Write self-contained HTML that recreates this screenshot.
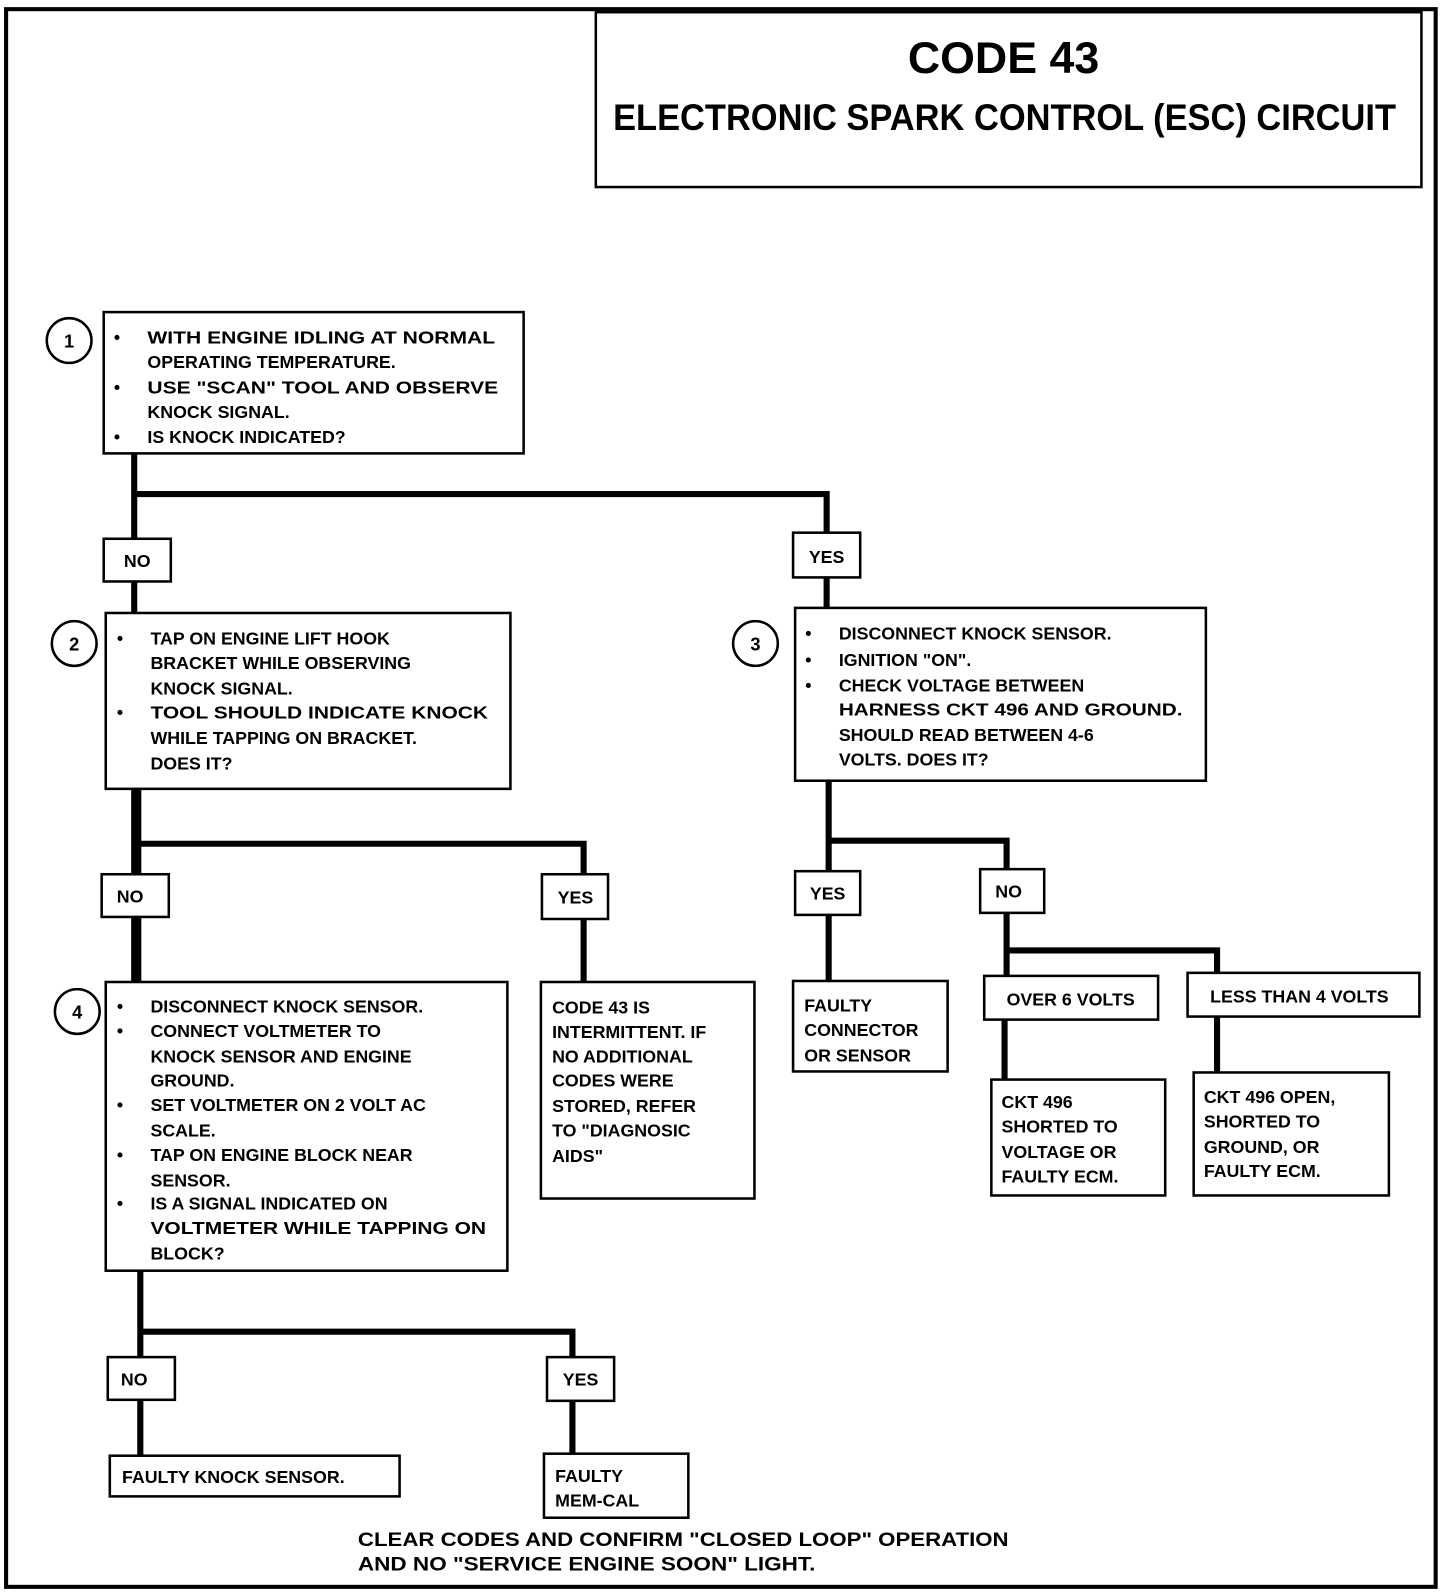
<!DOCTYPE html>
<html><head><meta charset="utf-8"><style>
html,body{margin:0;padding:0;background:#fff;}
svg{display:block;}
text{font-family:"Liberation Sans",sans-serif;font-weight:bold;fill:#000;}
.t{font-size:17.5px;}
.r{fill:#fff;stroke:#000;stroke-width:2.5;}
.l{stroke:#000;stroke-width:6;fill:none;}
.c{fill:#fff;stroke:#000;stroke-width:2.5;}
</style></head><body>
<svg width="1456" height="1596" viewBox="0 0 1432 1570" preserveAspectRatio="none" xmlns="http://www.w3.org/2000/svg">
<rect x="6" y="9" width="1406" height="1552" fill="none" stroke="#000" stroke-width="4"/>
<rect class="r" x="586" y="12" width="812" height="172"/>
<text x="987" y="72" text-anchor="middle" font-size="44">CODE 43</text>
<text x="988" y="128" text-anchor="middle" font-size="36" textLength="770" lengthAdjust="spacingAndGlyphs">ELECTRONIC SPARK CONTROL (ESC) CIRCUIT</text>

<!-- connectors -->
<path class="l" d="M132 446V1040M132 486H813V600"/>
<path class="l" d="M136 776V966M136 830H574V966"/>
<path class="l" d="M815 768V965M815 827H990V1000M990 935H1197V1055M988 1000V1062"/>
<path class="l" d="M138 1250V1432M138 1310H563V1430"/>

<!-- box1 -->
<circle class="c" cx="68" cy="335" r="22"/><text x="68" y="342" text-anchor="middle" font-size="18">1</text>
<rect class="r" x="102" y="307" width="413" height="139"/>
<g class="t"><text x="112" y="338">•</text><text x="145" y="338" textLength="342" lengthAdjust="spacingAndGlyphs">WITH ENGINE IDLING AT NORMAL</text>
<text x="145" y="362">OPERATING TEMPERATURE.</text>
<text x="112" y="387">•</text><text x="145" y="387" textLength="345" lengthAdjust="spacingAndGlyphs">USE "SCAN" TOOL AND OBSERVE</text>
<text x="145" y="411">KNOCK SIGNAL.</text>
<text x="112" y="436">•</text><text x="145" y="436">IS KNOCK INDICATED?</text></g>

<rect class="r" x="102" y="530" width="66" height="42"/><text class="t" x="135" y="558" text-anchor="middle">NO</text>
<rect class="r" x="780" y="524" width="66" height="44"/><text class="t" x="813" y="554" text-anchor="middle">YES</text>

<!-- box2 -->
<circle class="c" cx="73" cy="633" r="22"/><text x="73" y="640" text-anchor="middle" font-size="18">2</text>
<rect class="r" x="104" y="603" width="398" height="173"/>
<g class="t"><text x="115" y="634">•</text><text x="148" y="634">TAP ON ENGINE LIFT HOOK</text>
<text x="148" y="658">BRACKET WHILE OBSERVING</text>
<text x="148" y="683">KNOCK SIGNAL.</text>
<text x="115" y="707">•</text><text x="148" y="707" textLength="332" lengthAdjust="spacingAndGlyphs">TOOL SHOULD INDICATE KNOCK</text>
<text x="148" y="732">WHILE TAPPING ON BRACKET.</text>
<text x="148" y="757">DOES IT?</text></g>

<!-- box3 -->
<circle class="c" cx="743" cy="633" r="22"/><text x="743" y="640" text-anchor="middle" font-size="18">3</text>
<rect class="r" x="782" y="598" width="404" height="170"/>
<g class="t"><text x="792" y="629">•</text><text x="825" y="629">DISCONNECT KNOCK SENSOR.</text>
<text x="792" y="655">•</text><text x="825" y="655">IGNITION "ON".</text>
<text x="792" y="680">•</text><text x="825" y="680">CHECK VOLTAGE BETWEEN</text>
<text x="825" y="704" textLength="338" lengthAdjust="spacingAndGlyphs">HARNESS CKT 496 AND GROUND.</text>
<text x="825" y="729">SHOULD READ BETWEEN 4-6</text>
<text x="825" y="753">VOLTS. DOES IT?</text></g>

<rect class="r" x="100" y="860" width="66" height="42"/><text class="t" x="128" y="888" text-anchor="middle">NO</text>
<rect class="r" x="533" y="860" width="65" height="44"/><text class="t" x="566" y="889" text-anchor="middle">YES</text>
<rect class="r" x="782" y="857" width="64" height="43"/><text class="t" x="814" y="885" text-anchor="middle">YES</text>
<rect class="r" x="964" y="855" width="63" height="43"/><text class="t" x="992" y="883" text-anchor="middle">NO</text>

<!-- box4 -->
<circle class="c" cx="76" cy="995" r="22"/><text x="76" y="1002" text-anchor="middle" font-size="18">4</text>
<rect class="r" x="104" y="966" width="395" height="284"/>
<g class="t"><text x="115" y="996">•</text><text x="148" y="996">DISCONNECT KNOCK SENSOR.</text>
<text x="115" y="1020">•</text><text x="148" y="1020">CONNECT VOLTMETER TO</text>
<text x="148" y="1045">KNOCK SENSOR AND ENGINE</text>
<text x="148" y="1069">GROUND.</text>
<text x="115" y="1093">•</text><text x="148" y="1093">SET VOLTMETER ON 2 VOLT AC</text>
<text x="148" y="1118">SCALE.</text>
<text x="115" y="1142">•</text><text x="148" y="1142">TAP ON ENGINE BLOCK NEAR</text>
<text x="148" y="1167">SENSOR.</text>
<text x="115" y="1190">•</text><text x="148" y="1190">IS A SIGNAL INDICATED ON</text>
<text x="148" y="1214" textLength="330" lengthAdjust="spacingAndGlyphs">VOLTMETER WHILE TAPPING ON</text>
<text x="148" y="1239">BLOCK?</text></g>

<rect class="r" x="532" y="966" width="210" height="213"/>
<g class="t"><text x="543" y="997">CODE 43 IS</text>
<text x="543" y="1021">INTERMITTENT. IF</text>
<text x="543" y="1045">NO ADDITIONAL</text>
<text x="543" y="1069">CODES WERE</text>
<text x="543" y="1094">STORED, REFER</text>
<text x="543" y="1118">TO "DIAGNOSIC</text>
<text x="543" y="1143">AIDS"</text></g>

<rect class="r" x="780" y="965" width="152" height="89"/>
<g class="t"><text x="791" y="995">FAULTY</text><text x="791" y="1019">CONNECTOR</text><text x="791" y="1044">OR SENSOR</text></g>

<rect class="r" x="968" y="960" width="171" height="43"/><text class="t" x="1053" y="989" text-anchor="middle">OVER 6 VOLTS</text>
<rect class="r" x="1168" y="957" width="228" height="43"/><text class="t" x="1278" y="986" text-anchor="middle">LESS THAN 4 VOLTS</text>

<rect class="r" x="975" y="1062" width="171" height="114"/>
<g class="t"><text x="985" y="1090">CKT 496</text><text x="985" y="1114">SHORTED TO</text><text x="985" y="1139">VOLTAGE OR</text><text x="985" y="1163">FAULTY ECM.</text></g>
<rect class="r" x="1174" y="1055" width="192" height="121"/>
<g class="t"><text x="1184" y="1085">CKT 496 OPEN,</text><text x="1184" y="1109">SHORTED TO</text><text x="1184" y="1134">GROUND, OR</text><text x="1184" y="1158">FAULTY ECM.</text></g>

<rect class="r" x="106" y="1335" width="66" height="42"/><text class="t" x="132" y="1363" text-anchor="middle">NO</text>
<rect class="r" x="538" y="1335" width="66" height="43"/><text class="t" x="571" y="1363" text-anchor="middle">YES</text>

<rect class="r" x="108" y="1432" width="285" height="40"/><text class="t" x="120" y="1459">FAULTY KNOCK SENSOR.</text>
<rect class="r" x="535" y="1430" width="142" height="63"/>
<g class="t"><text x="546" y="1458">FAULTY</text><text x="546" y="1482">MEM-CAL</text></g>

<text x="352" y="1521" font-size="19" textLength="640" lengthAdjust="spacingAndGlyphs">CLEAR CODES AND CONFIRM "CLOSED LOOP" OPERATION</text>
<text x="352" y="1545" font-size="19" textLength="450" lengthAdjust="spacingAndGlyphs">AND NO "SERVICE ENGINE SOON" LIGHT.</text>
</svg>
</body></html>
